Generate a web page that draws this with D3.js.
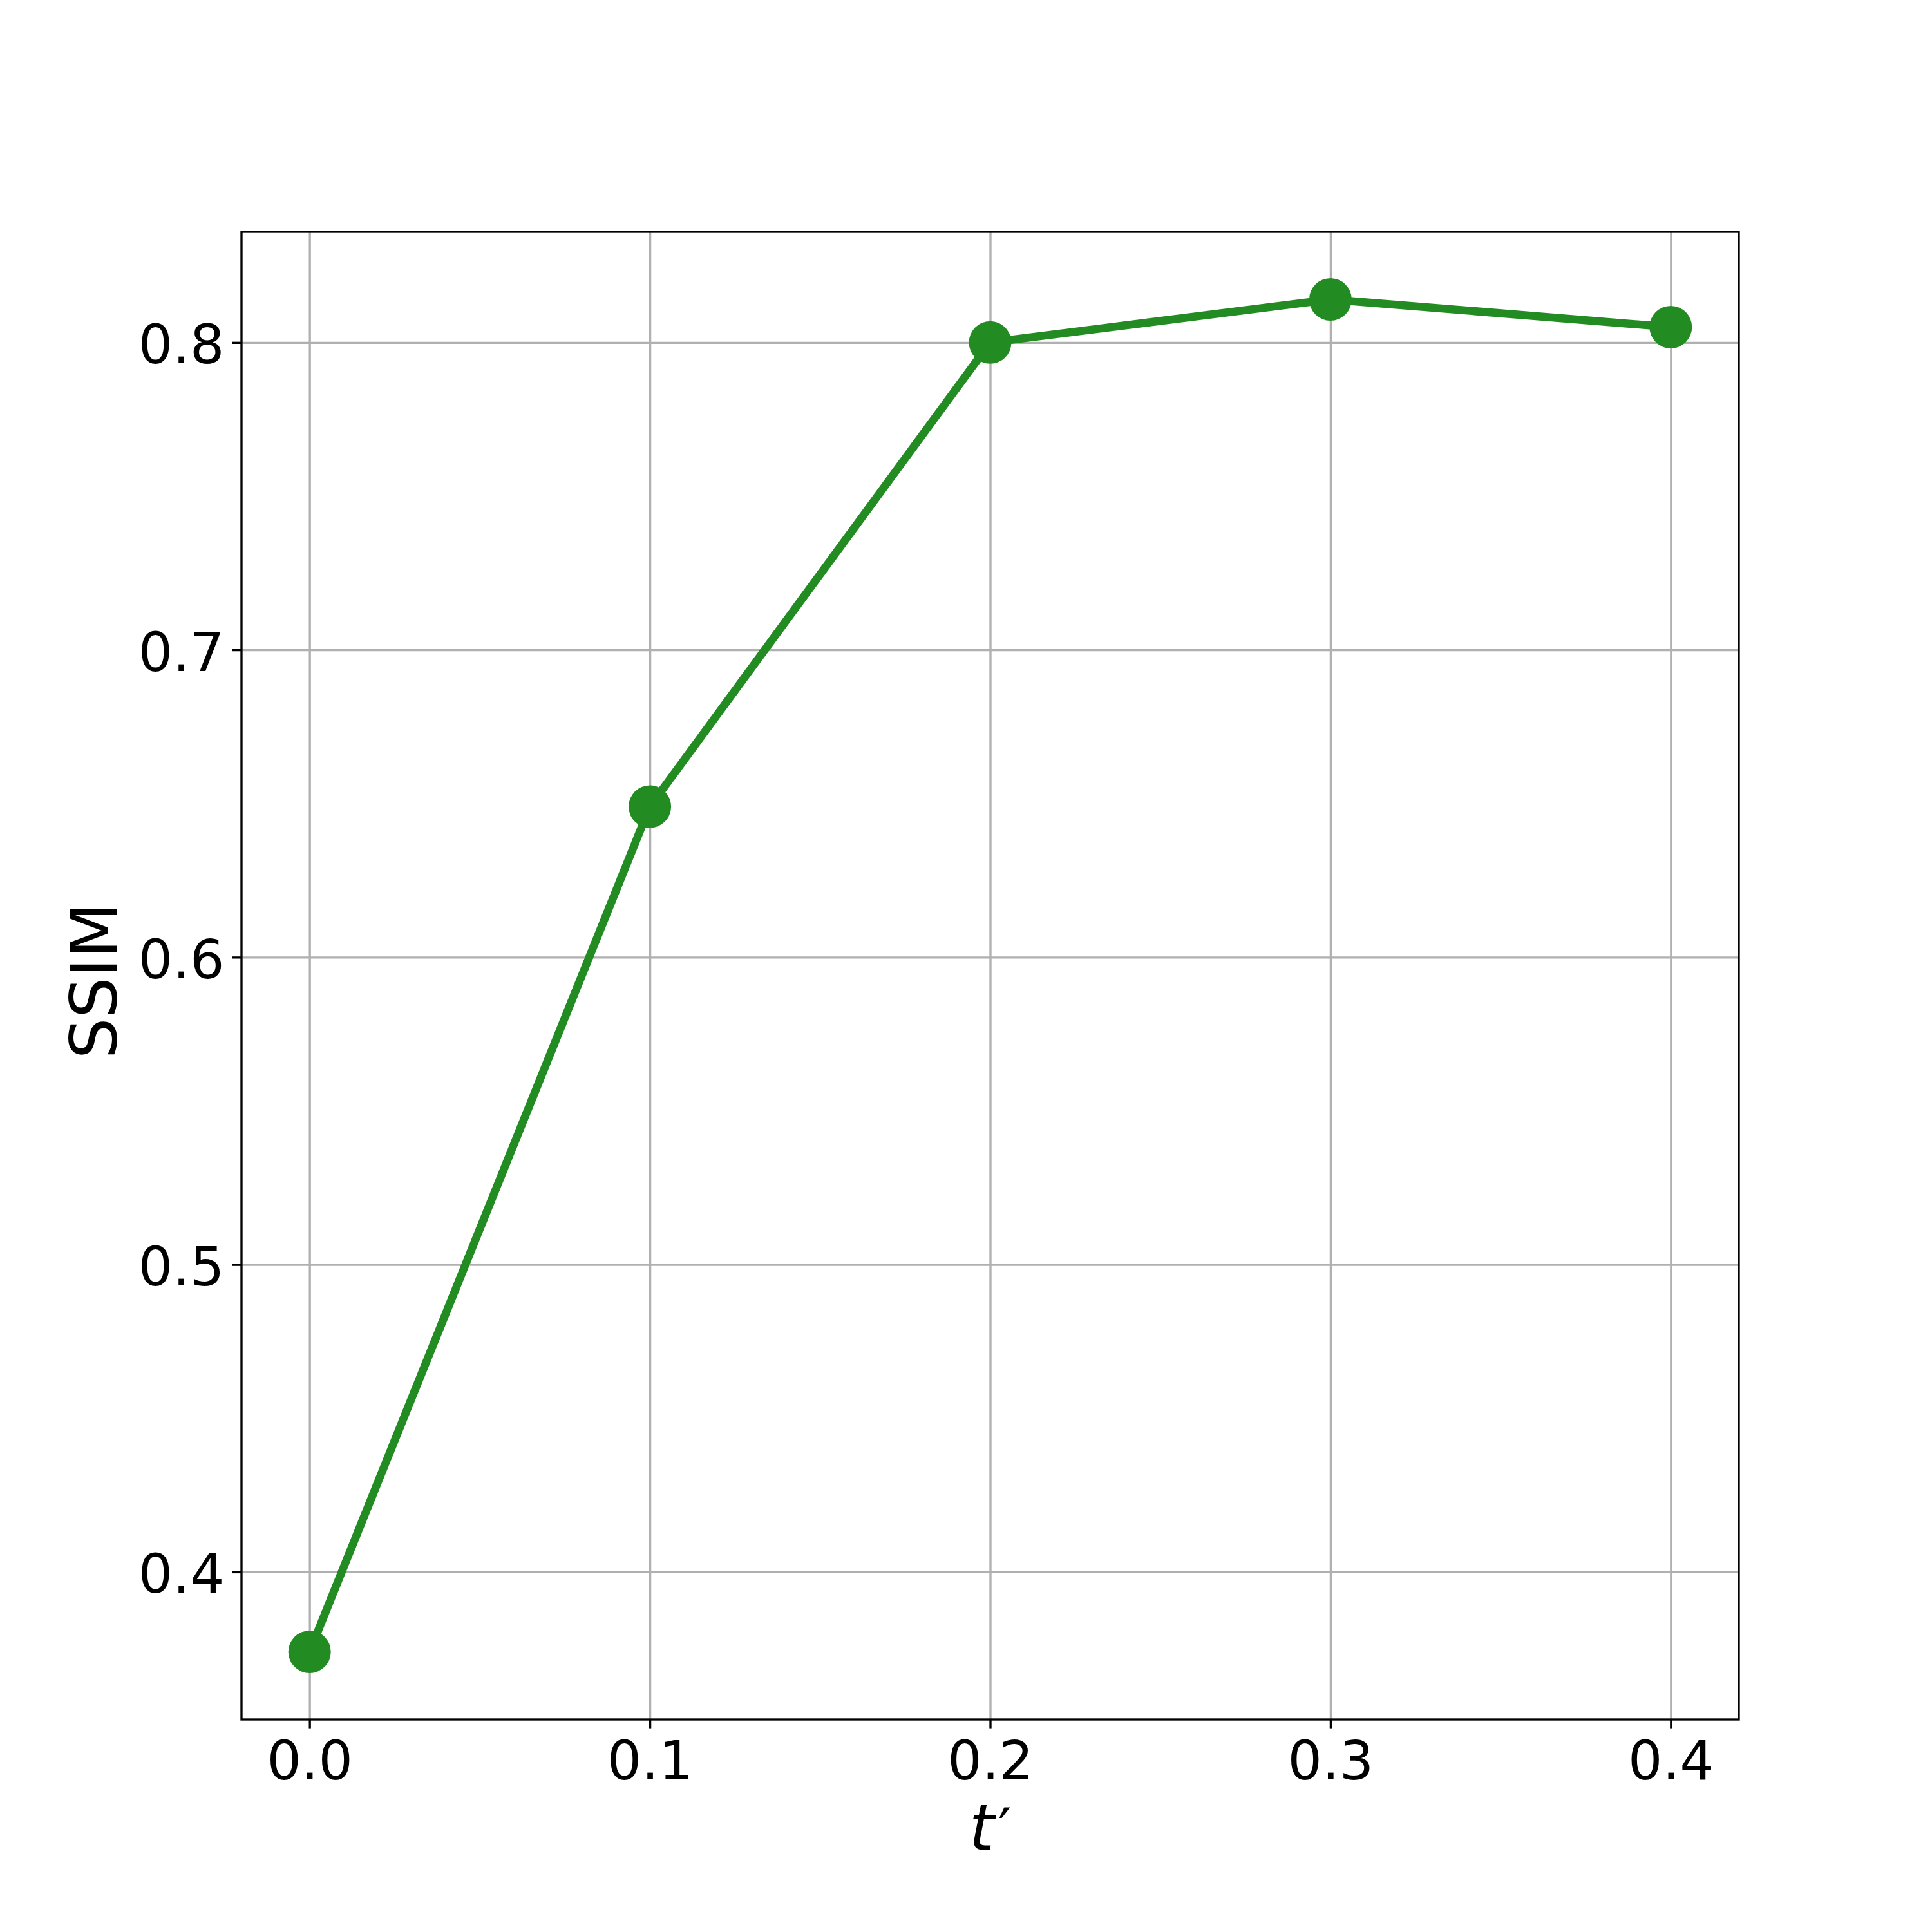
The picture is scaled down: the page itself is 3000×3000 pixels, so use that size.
<!DOCTYPE html>
<html>
<head>
<meta charset="utf-8">
<script src="https://cdn.jsdelivr.net/npm/d3@7"></script>
<style>
  body { margin: 0; background: #fff; }
  text { font-family: "DejaVu Sans", sans-serif; fill: #000; }
  .axis path.domain { display: none; }
  .axis line { stroke: #000; stroke-width: 3.33; }
  .grid line { stroke: #b0b0b0; stroke-width: 3.33; }
  .grid path.domain { display: none; }
</style>
</head>
<body>
<div id="figure-container"></div>
<script>
var tPrime = [0.0, 0.1, 0.2, 0.3, 0.4];
var ssim = [0.374, 0.649, 0.800, 0.814, 0.805];
var xTicks = [0.0, 0.1, 0.2, 0.3, 0.4];
var yTicks = [0.4, 0.5, 0.6, 0.7, 0.8];

var margin = {top: 360, right: 300, bottom: 330, left: 375};
var fullWidth = 3000;
var fullHeight = 3000;
var width = fullWidth - margin.left - margin.right;
var height = fullHeight - margin.top - margin.bottom;

// matplotlib style 5% padding around the data
function padded(lo, hi) {
  var p = (hi - lo) * 0.05;
  return [lo - p, hi + p];
}

var xScale = d3.scaleLinear()
  .domain(padded(d3.min(tPrime), d3.max(tPrime)))
  .range([0, width]);

var yScale = d3.scaleLinear()
  .domain(padded(d3.min(ssim), d3.max(ssim)))
  .range([height, 0]);

var svg = d3.select('#figure-container')
  .append('svg')
  .attr('width', fullWidth)
  .attr('height', fullHeight)
  .append('g')
  .attr('transform', `translate(${margin.left},${margin.top})`);

// grid
svg.append('g')
  .attr('class', 'grid')
  .attr('transform', `translate(0,${height})`)
  .call(d3.axisBottom(xScale).tickValues(xTicks).tickSize(-height).tickFormat(''));

svg.append('g')
  .attr('class', 'grid')
  .call(d3.axisLeft(yScale).tickValues(yTicks).tickSize(-width).tickFormat(''));

var line = d3.line()
  .x(function(d, i) { return xScale(tPrime[i]); })
  .y(function(d) { return yScale(d); });

svg.append('path')
  .datum(ssim)
  .attr('fill', 'none')
  .attr('stroke', '#228B22')
  .attr('stroke-width', 12.5)
  .attr('stroke-linejoin', 'round')
  .attr('d', line);

svg.append('g')
  .selectAll('circle')
  .data(ssim)
  .enter()
    .append('circle')
    .attr('cx', function(d, i) { return xScale(tPrime[i]); })
    .attr('cy', function(d) { return yScale(d); })
    .attr('r', 33)
    .attr('fill', '#228B22');

// axes
var xAxis = svg.append('g')
  .attr('class', 'axis x')
  .attr('transform', `translate(0,${height})`)
  .call(d3.axisBottom(xScale).tickValues(xTicks).tickSize(14.6).tickPadding(19).tickFormat(d3.format('.1f')));
xAxis.selectAll('text').attr('font-size', 84);

var yAxis = svg.append('g')
  .attr('class', 'axis y')
  .call(d3.axisLeft(yScale).tickValues(yTicks).tickSize(14.6).tickPadding(12).tickFormat(d3.format('.1f')));
yAxis.selectAll('text').attr('font-size', 84).attr('dy', '0.38em');

svg.append('rect')
  .attr('width', width)
  .attr('height', height)
  .attr('fill', 'none')
  .attr('stroke', '#000')
  .attr('stroke-width', 3.33);

// labels
var xLabel = svg.append('text')
  .attr('x', width / 2)
  .attr('y', 2873 - margin.top)
  .attr('text-anchor', 'middle')
  .attr('font-size', 100);
xLabel.append('tspan').attr('font-style', 'italic').text('t');
xLabel.append('tspan').attr('dx', 6).attr('font-size', 90).text('\u2032');

svg.append('text')
  .attr('transform', `translate(${181 - margin.left},${height / 2 + 8}) rotate(-90)`)
  .attr('text-anchor', 'middle')
  .attr('font-size', 100)
  .text('SSIM');
</script>
</body>
</html>
